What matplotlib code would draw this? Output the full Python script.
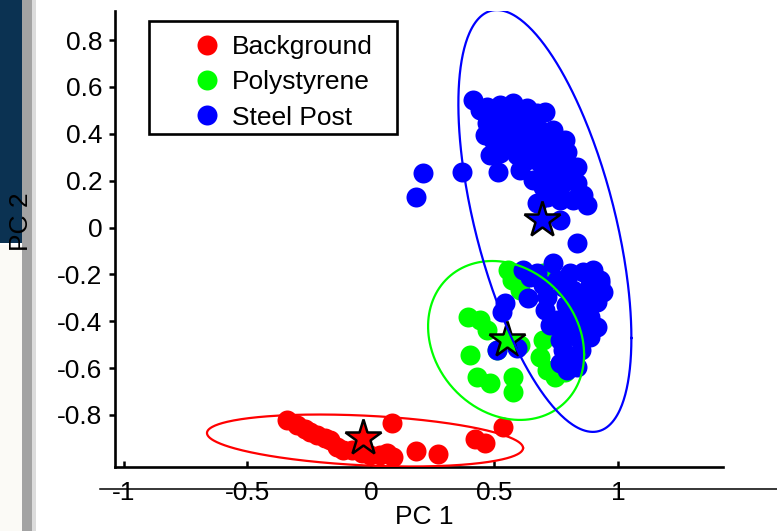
import numpy as np
import matplotlib
matplotlib.use("Agg")
import matplotlib.pyplot as plt
from matplotlib.patches import Rectangle
from matplotlib.lines import Line2D

plt.rcParams['font.family'] = ['Liberation Sans', 'DejaVu Sans']

# ---------------- data ----------------
series_names = ["Background", "Polystyrene", "Steel Post"]
series_colors = ["#ff0000", "#00ff00", "#0000ff"]

bg_x = [-0.340, -0.300, -0.267, -0.247, -0.219, -0.186, -0.166, -0.138, -0.113, -0.077,
        -0.036, -0.004, 0.036, 0.065, 0.089, 0.085, 0.182, 0.271, 0.421, 0.462, 0.534]
bg_y = [-0.821, -0.843, -0.860, -0.872, -0.885, -0.898, -0.907, -0.936, -0.949, -0.949,
        -0.962, -0.970, -0.970, -0.962, -0.979, -0.834, -0.953, -0.966, -0.902, -0.919, -0.851]

ps_x = [0.555, 0.571, 0.603, 0.696, 0.393, 0.441, 0.470, 0.401, 0.510, 0.603,
        0.429, 0.482, 0.575, 0.575, 0.696, 0.684, 0.713, 0.745, 0.785]
ps_y = [-0.181, -0.224, -0.267, -0.194, -0.382, -0.395, -0.437, -0.544, -0.523, -0.501,
        -0.637, -0.663, -0.637, -0.702, -0.480, -0.552, -0.608, -0.637, -0.616]

sp_x = [0.413, 0.470, 0.522, 0.575, 0.632, 0.672, 0.656, 0.591, 0.522, 0.470,
        0.494, 0.522, 0.575, 0.632, 0.684, 0.737, 0.753, 0.696, 0.644, 0.632,
        0.684, 0.737, 0.794, 0.834, 0.794, 0.737, 0.656, 0.696, 0.765, 0.834,
        0.858, 0.818, 0.713, 0.672, 0.765, 0.834, 0.514, 0.368, 0.211, 0.182,
        0.603, 0.551, 0.737, 0.644, 0.636, 0.543, 0.530, 0.510, 0.591, 0.806,
        0.858, 0.899, 0.927, 0.939, 0.915, 0.874, 0.818, 0.777, 0.753, 0.713,
        0.753, 0.806, 0.887, 0.915, 0.887, 0.818, 0.765, 0.777, 0.818, 0.765,
        0.794, 0.834, 0.672, 0.927, 0.765, 0.834, 0.846, 0.887, 0.704, 0.615,
        0.441, 0.494, 0.551, 0.603, 0.551, 0.603, 0.522, 0.656, 0.713, 0.603,
        0.591, 0.644, 0.696, 0.765, 0.713, 0.765, 0.806, 0.874, 0.765, 0.785,
        0.462, 0.482, 0.704, 0.850, 0.850, 0.725, 0.858, 0.789, 0.696]
sp_y = [0.544, 0.514, 0.523, 0.531, 0.510, 0.488, 0.459, 0.471, 0.471, 0.446,
        0.373, 0.318, 0.403, 0.416, 0.416, 0.416, 0.360, 0.343, 0.343, 0.288,
        0.275, 0.301, 0.322, 0.258, 0.245, 0.232, 0.203, 0.173, 0.173, 0.190,
        0.139, 0.117, 0.130, 0.105, 0.032, -0.066, 0.237, 0.237, 0.232, 0.130,
        0.245, 0.343, -0.151, -0.211, -0.301, -0.322, -0.360, -0.523, -0.514, -0.194,
        -0.190, -0.181, -0.224, -0.275, -0.318, -0.297, -0.267, -0.254, -0.224, -0.297,
        -0.395, -0.382, -0.382, -0.424, -0.467, -0.450, -0.480, -0.523, -0.552, -0.578,
        -0.608, -0.595, -0.194, -0.237, -0.407, -0.467, -0.309, -0.245, 0.492, -0.181,
        0.501, 0.493, 0.501, 0.493, 0.437, 0.437, 0.416, 0.373, 0.373, 0.373,
        0.309, 0.297, 0.309, 0.288, 0.245, 0.224, 0.203, 0.096, 0.117, 0.373,
        0.395, 0.309, -0.352, -0.352, -0.523, -0.416, -0.416, -0.330, -0.245]

# class centroids (stars)
centroid_x = [-0.032, 0.551, 0.692]
centroid_y = [-0.898, -0.480, 0.032]

# confidence ellipses: centre and shape matrix [[a, b], [b, c]]
ellipse_cx = [-0.024, 0.547, 0.704]
ellipse_cy = [-0.909, -0.482, 0.028]
ellipse_a = [0.4092, 0.0997, 0.1226]
ellipse_b = [-0.02047, -0.0190, -0.1749]
ellipse_c = [0.01230, 0.1150, 0.8103]

xticks = [-1, -0.5, 0, 0.5, 1]
xticklabels = ["-1", "-0.5", "0", "0.5", "1"]
yticks = [-0.8, -0.6, -0.4, -0.2, 0, 0.2, 0.4, 0.6, 0.8]
yticklabels = ["-0.8", "-0.6", "-0.4", "-0.2", "0", "0.2", "0.4", "0.6", "0.8"]

# ---------------- figure ----------------
W, H = 777, 531
FS = 19
fig = plt.figure(figsize=(W / 100, H / 100), dpi=100)

# slide decoration on the left edge (behind the axes)
deco = [
    ((0, 1 - 243 / H), 22 / W, 243 / H, "#0b3252"),
    ((22 / W, 0), 10 / W, 1, "#a3a3a3"),
    ((32 / W, 0), 4 / W, 1, "#dcdcdc"),
    ((0, 0), 22 / W, 1 - 245 / H, "#fbfaf6"),
]
for xy, w, h, c in deco:
    fig.patches.append(Rectangle(xy, w, h, transform=fig.transFigure,
                                 facecolor=c, edgecolor="none", zorder=-2))

ax = fig.add_axes([115 / W, 1 - 467 / H, (723 - 115) / W, (467 - 11) / H])
ax.set_facecolor("none")

xs = [bg_x, ps_x, sp_x]
ys = [bg_y, ps_y, sp_y]
for i in range(3):
    ax.plot(xs[i], ys[i], linestyle="none", marker="o", markersize=14.4,
            color=series_colors[i], markeredgewidth=0, label=series_names[i], zorder=2)

for i in range(3):
    ax.plot(centroid_x[i], centroid_y[i], linestyle="none", marker="*", markersize=27,
            markerfacecolor=series_colors[i], markeredgecolor="black",
            markeredgewidth=1.8, zorder=3)

t = np.linspace(0, 2 * np.pi, 400)
for i in range(3):
    A = np.array([[ellipse_a[i], ellipse_b[i]], [ellipse_b[i], ellipse_c[i]]])
    L = np.linalg.cholesky(A)
    pts = L @ np.vstack([np.cos(t), np.sin(t)])
    ax.plot(ellipse_cx[i] + pts[0], ellipse_cy[i] + pts[1], color=series_colors[i],
            linewidth=1.6, zorder=4)

ax.set_xlim(-1.036, 1.425)
ax.set_ylim(-1.022, 0.924)
ax.set_xticks(xticks)
ax.set_xticklabels(xticklabels)
ax.set_yticks(yticks)
ax.set_yticklabels(yticklabels)

for s in ["top", "right"]:
    ax.spines[s].set_visible(False)
for s in ["left", "bottom"]:
    ax.spines[s].set_linewidth(1.9)
ax.tick_params(axis="x", direction="in", length=4.5, width=1.8, pad=10, labelsize=FS)
ax.tick_params(axis="y", direction="out", length=4, width=1.8, pad=5, labelsize=FS)

ax.set_xlabel("PC 1", fontsize=FS)
ax.set_ylabel("PC 2", fontsize=FS)
ax.xaxis.set_label_coords((424 - 115) / (723 - 115), (467 - 517) / (467 - 11))
ax.xaxis.label.set_va("center")
ax.yaxis.set_label_coords((21 - 115) / (723 - 115), (467 - 222) / (467 - 11))
ax.yaxis.label.set_va("center")

# legend contents (no frame) + explicit frame rectangle
AXW, AXH = 608, 456
fs_px = FS * 100 / 72
hl = 2.0
anchor_x = 207 - hl * fs_px / 2
leg = ax.legend(loc="upper left", bbox_to_anchor=((anchor_x - 115) / AXW, (467 - 35) / AXH),
                borderaxespad=0, borderpad=0, fontsize=FS, frameon=False,
                handlelength=hl, handletextpad=-0.05, labelspacing=0.43)
leg.set_zorder(6)
ax.add_patch(Rectangle(((149 - 115) / AXW, (467 - 134) / AXH), 248 / AXW, 113 / AXH,
                       transform=ax.transAxes, facecolor="none", edgecolor="black",
                       linewidth=1.9, clip_on=False, zorder=5))

# stray horizontal line through the tick labels
fig.lines.append(Line2D([100 / W, 1], [1 - 488.7 / H, 1 - 488.7 / H], transform=fig.transFigure,
                        color="black", linewidth=1.1, zorder=1))

fig.savefig("out.png", dpi=100)
